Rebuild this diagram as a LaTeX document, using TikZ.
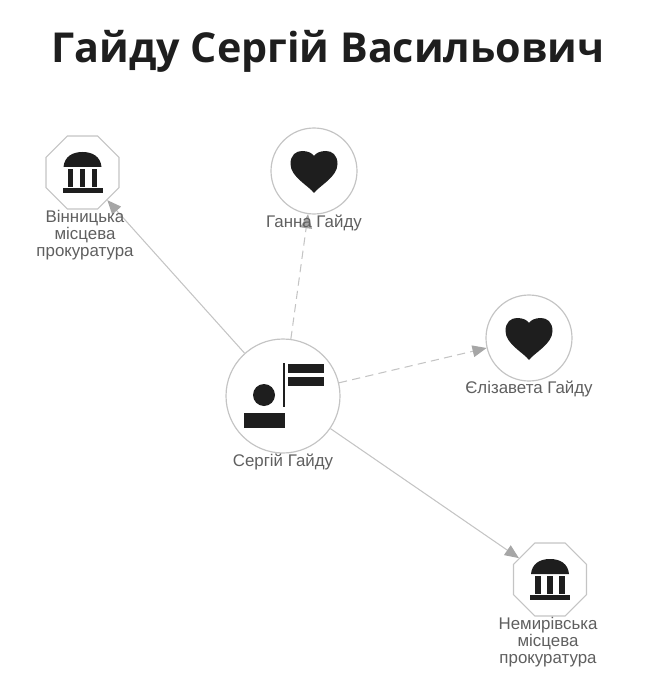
\documentclass[tikz,border=0pt]{standalone}
\usepackage{fontspec}
\setmainfont{Liberation Sans}
\newfontfamily\titlefont{Open Sans}
\usetikzlibrary{shapes.geometric}
\usetikzlibrary{arrows.meta}
\definecolor{edgegray}{HTML}{C4C4C4}
\definecolor{tipgray}{HTML}{A6A6A6}
\definecolor{textgray}{HTML}{5F5F5F}
\definecolor{icondark}{HTML}{1E1E1E}
\tikzset{
  round/.style={draw=edgegray, line width=1pt, circle, inner sep=0pt, fill=white},
  octa/.style={draw=edgegray, line width=1pt, regular polygon, regular polygon sides=8, inner sep=0pt, minimum size=79*0.03cm, fill=white},
  label/.style={align=center, text=textgray, font=\fontsize{14.4}{14.8}\selectfont},
  link/.style={draw=edgegray, line width=0.9pt, -{Triangle[length=12pt, width=10pt, fill=tipgray, color=tipgray]}},
  linkdash/.style={link, dash pattern=on 7pt off 4.5pt},
  heart/.pic={
    \fill [icondark] (0,22) .. controls (-5,15) and (-23.5,6) .. (-23.5,-7)
      .. controls (-23.5,-16) and (-18,-20) .. (-12,-20)
      .. controls (-6,-20) and (-2,-18) .. (0,-15)
      .. controls (2,-18) and (6,-20) .. (12,-20)
      .. controls (18,-20) and (23.5,-16) .. (23.5,-7)
      .. controls (23.5,6) and (5,15) .. (0,22) -- cycle;
  },
  bank/.pic={
    \fill [icondark] (-19,-5.5) .. controls (-18,-16) and (-10,-20.5) .. (0,-20.5)
      .. controls (10,-20.5) and (18,-16) .. (19,-5.5) -- cycle;
    \foreach \cx in {-12,0,12}
      \fill [icondark] (\cx-2.6,-3.5) rectangle (\cx+2.6,14.5);
    \fill [icondark] (-20,15.5) rectangle (20,20.5);
  },
}

\begin{document}
\begin{tikzpicture}[x=0.03cm, y=-0.03cm]
  \useasboundingbox (0,0) rectangle (665,679);

  \node [font=\titlefont\bfseries\fontsize{35.2}{40}\selectfont, text=icondark] (title) at (328,51){Гайду Сергій Васильович};

  \node [round, minimum size=114*0.03cm] (sergiy) at (283,396){};
  \node [round, minimum size=86*0.03cm] (hanna) at (314,171){};
  \node [round, minimum size=86*0.03cm] (yelyzaveta) at (529,338){};
  \node [octa] (vinnytsia) at (82.5,172.5){};
  \node [octa] (nemyriv) at (550,579.5){};

  \draw [link] (sergiy) -- (vinnytsia);
  \draw [linkdash] (sergiy) -- (hanna);
  \draw [linkdash] (sergiy) -- (yelyzaveta);
  \draw [link] (sergiy) -- (nemyriv);

  \pic at (hanna) {heart};
  \pic at (yelyzaveta) {heart};
  \pic at (vinnytsia) {bank};
  \pic at (nemyriv) {bank};

  % person and flag
  \fill [icondark] (264,395) circle (11);
  \fill [icondark] (244,413) rectangle (285,428);
  \fill [icondark] (283,363) rectangle (285,407);
  \fill [icondark] (288,364) rectangle (324,373);
  \fill [icondark] (288,377) rectangle (324,386);

  \node [label] (sergiyname) at (283,462){Сергій Гайду};
  \node [label] (hannaname) at (314,223){Ганна Гайду};
  \node [label] (yelyzavetaname) at (529,389){Єлізавета Гайду};
  \node [label] (vinnytsianame) at (85,235){Вінницька\\місцева\\прокуратура};
  \node [label] (nemyrivname) at (548,642){Немирівська\\місцева\\прокуратура};
\end{tikzpicture}
\end{document}
